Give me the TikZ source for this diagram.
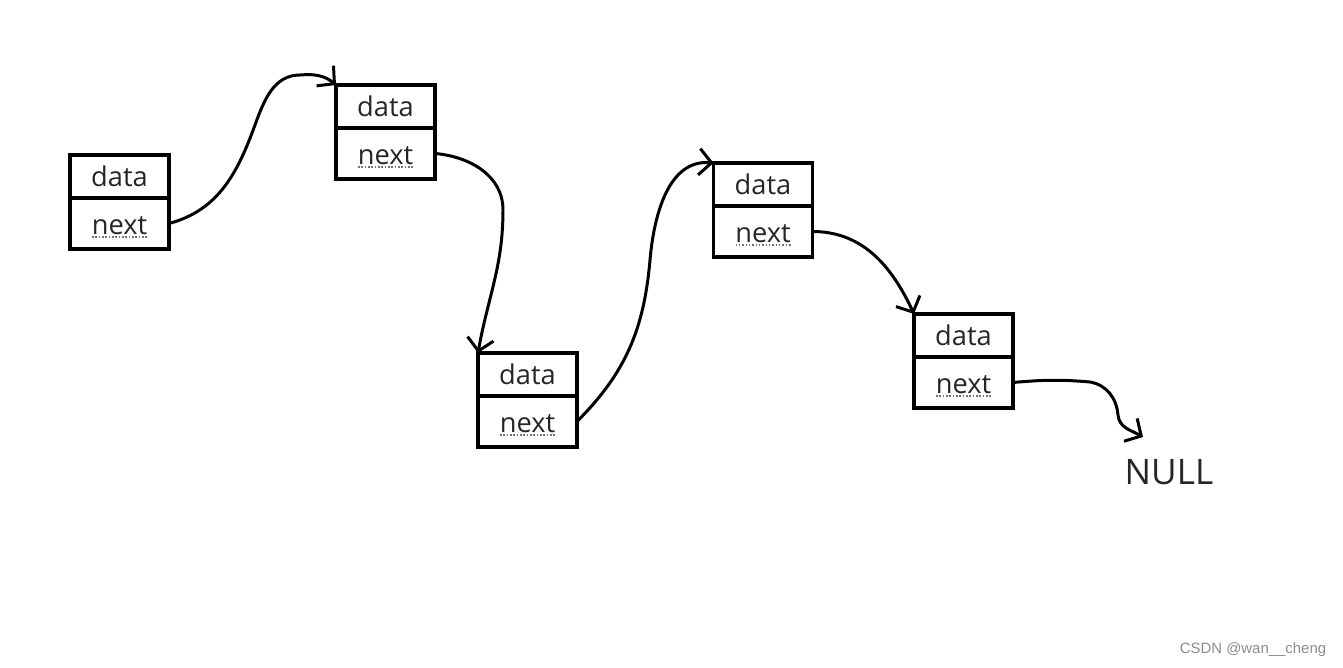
\documentclass[tikz,border=0pt]{standalone}
\usepackage{fontspec}
\setmainfont{Open Sans}
\newfontfamily\markfont{Liberation Sans}
\usetikzlibrary{arrows.meta,positioning}

\begin{document}
\begin{tikzpicture}[x=0.02cm, y=0.02cm,
  cell/.style={rectangle, draw, line width=2.2pt, outer sep=0pt, inner sep=0pt,
               minimum width=1.98cm, text=black!85,
               font=\fontsize{15.5}{18}\selectfont},
  datacell/.style={cell, minimum height=0.86cm},
  nextcell/.style={cell, minimum height=1.02cm, text height=12pt, text depth=0pt,
               path picture={\draw[densely dotted, line width=0.9pt, black!55]
                 ([xshift=-0.55cm, yshift=0.24cm]path picture bounding box.south) -- ++(1.1cm,0);}},
  link/.style={-{Straight Barb[length=7pt, width=15pt]}, line width=1.7pt, line cap=round}
]
\useasboundingbox (0,0) rectangle (1343,-668);

% List nodes
\node[datacell] (d1) at (119.5,-176.5) {data};
\node[nextcell, below=0pt of d1] (n1) {next};
\node[datacell] (d2) at (385.5,-106.5) {data};
\node[nextcell, below=0pt of d2] (n2) {next};
\node[datacell] (d3) at (527.5,-374.5) {data};
\node[nextcell, below=0pt of d3] (n3) {next};
\node[datacell] (d4) at (763,-184.5) {data};
\node[nextcell, below=0pt of d4] (n4) {next};
\node[datacell] (d5) at (963.5,-335.5) {data};
\node[nextcell, below=0pt of d5] (n5) {next};

% End of list
\node[font=\fontsize{20}{24}\selectfont, text=black!85] (null) at (1169,-472) {NULL};
\coordinate (nulltip) at (1143,-437);

% Links
\draw[link] (n1.east) to[out=15,in=-110] (255,-125) to[out=70,in=180] (300,-75)
            to[out=5,in=140] (d2.north west);
\draw[link] (n2.east) to[out=-5,in=90] (503,-210) to[out=-90,in=80] (d3.north west);
\draw[link] (n3.east) to[out=45,in=-95] (650,-260) to[out=85,in=175] (d4.north west);
\draw[link] (n4.east) to[out=0,in=115] (d5.north west);
\draw[link] (n5.east) to[out=5,in=175] (1090,-382) to[out=-10,in=95] (1118,-415)
            to[out=-85,in=150] (nulltip);

% Watermark
\node[font=\markfont\fontsize{8.5}{10}\selectfont, text=black!45] (mark) at (1253,-650) {CSDN @wan\_\_cheng};
\end{tikzpicture}
\end{document}
